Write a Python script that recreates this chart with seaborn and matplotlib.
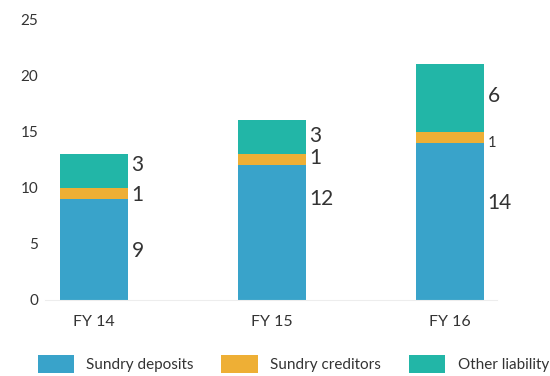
import matplotlib
matplotlib.use("Agg")
import matplotlib.pyplot as plt
import seaborn as sns
import pandas as pd
import numpy as np
from matplotlib.patches import Patch

years = ["FY 14", "FY 15", "FY 16"]
sundry_deposits = [9, 12, 14]
sundry_creditors = [1, 1, 1]
other_liability = [3, 3, 6]
series_names = ["Sundry deposits", "Sundry creditors", "Other liability"]
colors = ["#39A3CA", "#EEAF35", "#22B6A7"]
label_sizes = {"FY 14": [15, 15, 15], "FY 15": [15, 15, 15], "FY 16": [15, 10.5, 15]}
# vertical nudge of each value label from its segment centre (data units)
label_nudge = {"FY 14": [-0.2, -0.2, 0.5], "FY 15": [3.0, 0.1, 0.1], "FY 16": [1.6, -0.5, 0.2]}

sns.set_theme(style="white")
plt.rcParams["font.family"] = ["Lato", "DejaVu Sans"]

df = pd.DataFrame({
    "year": years,
    "deposits": sundry_deposits,
    "creditors": sundry_creditors,
    "other": other_liability,
})
df["lvl1"] = df["deposits"]
df["lvl2"] = df["deposits"] + df["creditors"]
df["lvl3"] = df["lvl2"] + df["other"]

fig = plt.figure(figsize=(5.5, 3.76), dpi=100)
ax = fig.add_axes([0.082, 0.203, 0.822, 0.745])

# stacked bars drawn from the tallest cumulative level down
for col, c in zip(["lvl3", "lvl2", "lvl1"], colors[::-1]):
    sns.barplot(data=df, x="year", y=col, color=c, width=0.38,
                saturation=1, ax=ax, errorbar=None, linewidth=0)

ax.set_ylim(0, 25)
ax.set_xlim(-0.275, 2.264)
ax.set_yticks(range(0, 26, 5))
ax.set_xlabel("")
ax.set_ylabel("")
for s in ["top", "right", "left"]:
    ax.spines[s].set_visible(False)
ax.spines["bottom"].set_color("#EDEDED")
ax.spines["bottom"].set_linewidth(0.8)
ax.tick_params(axis="y", length=0, labelsize=11, labelcolor="#333333", pad=5)
ax.tick_params(axis="x", length=0, labelsize=11.5, labelcolor="#333333", pad=11)

# value labels beside each segment
for i, y in enumerate(years):
    bottoms = [0, sundry_deposits[i], sundry_deposits[i] + sundry_creditors[i]]
    vals = [sundry_deposits[i], sundry_creditors[i], other_liability[i]]
    for b, v, fs, dy in zip(bottoms, vals, label_sizes[y], label_nudge[y]):
        ax.text(i + 0.19 + 0.02, b + v / 2 + dy, str(v), ha="left", va="center",
                fontsize=fs, color="#333333")

handles = [Patch(facecolor=c, edgecolor="none", label=n) for c, n in zip(colors, series_names)]
fig.legend(handles=handles, loc="center", bbox_to_anchor=(0.533, 0.032), ncol=3,
           frameon=False, fontsize=11, handlelength=2.4, handleheight=1.4,
           columnspacing=1.8, handletextpad=0.8, labelcolor="#333333")

fig.savefig("out.png", dpi=100)
